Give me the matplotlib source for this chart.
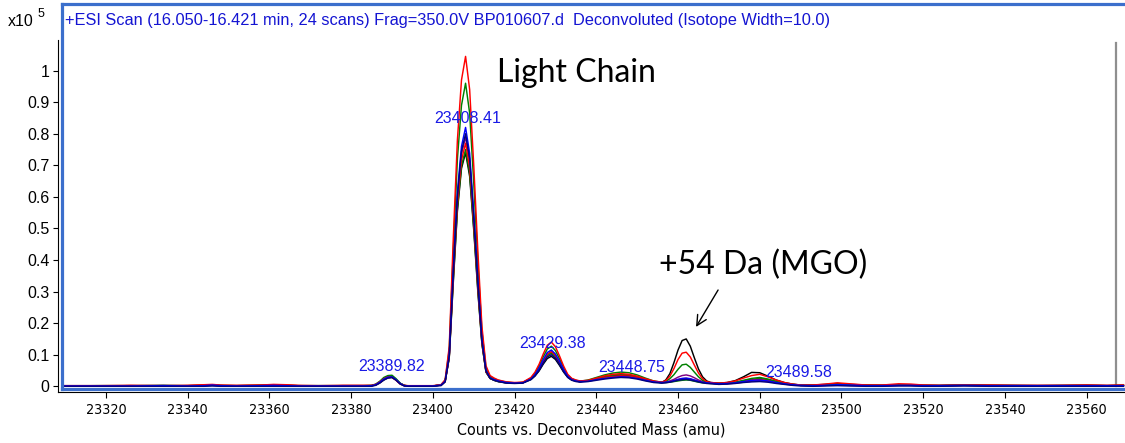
import matplotlib
matplotlib.use("Agg")
import matplotlib.pyplot as plt
from matplotlib import font_manager

# ---------------------------------------------------------------- data
# deconvoluted mass axis (amu), shared by all overlaid spectra
mass = [
    23309, 23318, 23326, 23334, 23340, 23344, 23346, 23348, 23352, 23358, 23361, 23364, 23367, 23372, 23378, 23383,
    23385, 23386, 23387, 23388, 23389, 23390, 23391, 23392, 23393, 23394, 23397, 23400,
    23402, 23403, 23404, 23405, 23406, 23407, 23408, 23409, 23410, 23411, 23412, 23413, 23414, 23415, 23416, 23418, 23420, 23422,
    23424, 23425, 23426, 23427, 23428, 23429, 23430, 23431, 23432, 23433, 23434, 23435, 23436,
    23438, 23440, 23442, 23444, 23446, 23448, 23450, 23452, 23454,
    23456, 23457, 23458, 23459, 23460, 23461, 23462, 23463, 23464, 23465, 23466, 23467, 23468,
    23470, 23472, 23474, 23476, 23478, 23480, 23482, 23484, 23486, 23488, 23490,
    23493, 23496, 23499, 23502, 23506, 23510, 23514, 23517, 23520, 23524, 23530, 23536, 23542, 23548, 23554, 23560, 23565, 23569,
]

# counts (x10^5) for each overlaid spectrum
black_e5 = [
    0.002, 0.002, 0.002, 0.003, 0.002, 0.003, 0.004, 0.002, 0.002, 0.003, 0.004, 0.003, 0.002, 0.002, 0.002, 0.002,
    0.002, 0.004, 0.011, 0.020, 0.027, 0.028, 0.020, 0.009, 0.003, 0.001, 0.001, 0.001,
    0.004, 0.015, 0.090, 0.330, 0.555, 0.690, 0.740, 0.665, 0.495, 0.300, 0.135, 0.045, 0.025, 0.019, 0.015, 0.011, 0.010, 0.012,
    0.022, 0.033, 0.049, 0.070, 0.088, 0.095, 0.085, 0.066, 0.045, 0.029, 0.020, 0.017, 0.015,
    0.018, 0.024, 0.030, 0.034, 0.035, 0.033, 0.028, 0.021, 0.015,
    0.012, 0.020, 0.040, 0.075, 0.115, 0.145, 0.150, 0.127, 0.090, 0.055, 0.030, 0.017, 0.012,
    0.010, 0.012, 0.018, 0.030, 0.044, 0.043, 0.032, 0.020, 0.012, 0.007, 0.004,
    0.004, 0.006, 0.009, 0.006, 0.004, 0.003, 0.005, 0.004, 0.003, 0.003, 0.004, 0.003, 0.003, 0.002, 0.003, 0.003, 0.002, 0.003,
]
red_e5 = [
    0.002, 0.002, 0.003, 0.002, 0.003, 0.005, 0.006, 0.004, 0.003, 0.004, 0.006, 0.005, 0.003, 0.002, 0.003, 0.003,
    0.003, 0.006, 0.014, 0.024, 0.030, 0.029, 0.019, 0.008, 0.003, 0.002, 0.002, 0.002,
    0.005, 0.021, 0.125, 0.470, 0.780, 0.970, 1.045, 0.940, 0.700, 0.430, 0.190, 0.065, 0.034, 0.026, 0.020, 0.014, 0.012, 0.013,
    0.028, 0.045, 0.070, 0.102, 0.130, 0.140, 0.125, 0.096, 0.064, 0.038, 0.025, 0.020, 0.017,
    0.019, 0.026, 0.033, 0.038, 0.040, 0.038, 0.032, 0.024, 0.017,
    0.013, 0.018, 0.032, 0.056, 0.085, 0.105, 0.108, 0.093, 0.067, 0.042, 0.024, 0.015, 0.012,
    0.010, 0.012, 0.017, 0.026, 0.034, 0.038, 0.030, 0.020, 0.012, 0.007, 0.004,
    0.004, 0.007, 0.011, 0.008, 0.004, 0.004, 0.008, 0.007, 0.004, 0.003, 0.004, 0.004, 0.003, 0.003, 0.003, 0.004, 0.003, 0.004,
]
green_e5 = [
    0.001, 0.002, 0.002, 0.002, 0.002, 0.003, 0.004, 0.003, 0.002, 0.003, 0.004, 0.003, 0.002, 0.002, 0.002, 0.002,
    0.003, 0.007, 0.016, 0.028, 0.034, 0.035, 0.024, 0.010, 0.003, 0.001, 0.001, 0.001,
    0.005, 0.019, 0.115, 0.430, 0.720, 0.890, 0.960, 0.865, 0.645, 0.395, 0.175, 0.058, 0.031, 0.024, 0.019, 0.013, 0.011, 0.012,
    0.026, 0.041, 0.064, 0.093, 0.118, 0.127, 0.113, 0.087, 0.058, 0.035, 0.024, 0.019, 0.016,
    0.020, 0.028, 0.036, 0.042, 0.045, 0.043, 0.036, 0.026, 0.017,
    0.013, 0.016, 0.024, 0.037, 0.054, 0.068, 0.070, 0.060, 0.045, 0.030, 0.019, 0.013, 0.011,
    0.009, 0.010, 0.013, 0.019, 0.025, 0.028, 0.023, 0.016, 0.010, 0.006, 0.004,
    0.003, 0.005, 0.007, 0.005, 0.003, 0.003, 0.004, 0.004, 0.003, 0.002, 0.004, 0.003, 0.002, 0.002, 0.002, 0.003, 0.002, 0.003,
]
blue_e5 = [
    0.001, 0.001, 0.001, 0.002, 0.001, 0.002, 0.004, 0.002, 0.001, 0.002, 0.003, 0.002, 0.001, 0.001, 0.001, 0.001,
    0.002, 0.005, 0.013, 0.023, 0.029, 0.030, 0.021, 0.009, 0.002, 0.001, 0.001, 0.001,
    0.004, 0.016, 0.098, 0.370, 0.615, 0.760, 0.820, 0.738, 0.550, 0.336, 0.148, 0.050, 0.027, 0.021, 0.017, 0.012, 0.010, 0.011,
    0.023, 0.037, 0.058, 0.084, 0.107, 0.115, 0.102, 0.079, 0.053, 0.032, 0.021, 0.017, 0.015,
    0.016, 0.021, 0.025, 0.028, 0.030, 0.029, 0.025, 0.019, 0.014,
    0.012, 0.013, 0.015, 0.018, 0.022, 0.025, 0.026, 0.024, 0.020, 0.016, 0.013, 0.011, 0.010,
    0.008, 0.009, 0.011, 0.015, 0.019, 0.020, 0.017, 0.012, 0.008, 0.005, 0.003,
    0.002, 0.003, 0.005, 0.004, 0.002, 0.002, 0.003, 0.003, 0.002, 0.002, 0.003, 0.002, 0.002, 0.002, 0.002, 0.002, 0.002, 0.002,
]
navy_e5 = [
    0.000, 0.000, 0.000, 0.000, 0.000, 0.000, 0.001, 0.000, 0.000, 0.000, 0.000, 0.000, 0.000, 0.000, 0.000, 0.000,
    0.000, 0.003, 0.010, 0.020, 0.026, 0.028, 0.019, 0.007, 0.001, 0.000, 0.000, 0.000,
    0.002, 0.014, 0.094, 0.360, 0.600, 0.745, 0.800, 0.720, 0.535, 0.328, 0.144, 0.048, 0.025, 0.019, 0.015, 0.010, 0.009, 0.010,
    0.021, 0.033, 0.050, 0.073, 0.093, 0.100, 0.089, 0.069, 0.046, 0.028, 0.019, 0.015, 0.013,
    0.015, 0.019, 0.023, 0.026, 0.028, 0.027, 0.023, 0.017, 0.012,
    0.010, 0.011, 0.013, 0.016, 0.019, 0.021, 0.022, 0.020, 0.017, 0.014, 0.011, 0.009, 0.008,
    0.006, 0.007, 0.009, 0.012, 0.014, 0.015, 0.013, 0.009, 0.006, 0.003, 0.001,
    0.000, 0.001, 0.002, 0.001, 0.000, 0.000, 0.001, 0.001, 0.000, 0.000, 0.001, 0.000, 0.000, 0.000, 0.000, 0.000, 0.000, 0.000,
]
red2_e5 = [
    0.001, 0.001, 0.002, 0.001, 0.002, 0.003, 0.004, 0.002, 0.002, 0.003, 0.005, 0.003, 0.002, 0.001, 0.002, 0.002,
    0.002, 0.005, 0.012, 0.022, 0.028, 0.029, 0.020, 0.008, 0.002, 0.001, 0.001, 0.001,
    0.004, 0.015, 0.092, 0.347, 0.578, 0.716, 0.770, 0.693, 0.516, 0.316, 0.139, 0.046, 0.026, 0.020, 0.016, 0.012, 0.011, 0.012,
    0.024, 0.037, 0.056, 0.081, 0.102, 0.110, 0.098, 0.076, 0.051, 0.032, 0.022, 0.018, 0.016,
    0.017, 0.022, 0.027, 0.031, 0.033, 0.032, 0.027, 0.020, 0.015,
    0.012, 0.013, 0.015, 0.018, 0.021, 0.024, 0.025, 0.023, 0.019, 0.016, 0.013, 0.011, 0.010,
    0.008, 0.009, 0.012, 0.016, 0.020, 0.022, 0.018, 0.013, 0.008, 0.005, 0.003,
    0.003, 0.004, 0.006, 0.005, 0.003, 0.003, 0.005, 0.004, 0.003, 0.002, 0.003, 0.003, 0.002, 0.002, 0.002, 0.003, 0.002, 0.003,
]
green2_e5 = [
    0.001, 0.001, 0.001, 0.002, 0.001, 0.002, 0.003, 0.002, 0.001, 0.002, 0.003, 0.002, 0.001, 0.001, 0.001, 0.001,
    0.002, 0.005, 0.013, 0.024, 0.030, 0.031, 0.021, 0.009, 0.002, 0.001, 0.001, 0.001,
    0.004, 0.015, 0.090, 0.338, 0.563, 0.698, 0.750, 0.675, 0.503, 0.308, 0.135, 0.045, 0.025, 0.019, 0.015, 0.011, 0.010, 0.011,
    0.022, 0.035, 0.053, 0.077, 0.097, 0.105, 0.094, 0.072, 0.049, 0.030, 0.020, 0.017, 0.015,
    0.018, 0.024, 0.030, 0.035, 0.038, 0.036, 0.030, 0.022, 0.015,
    0.011, 0.012, 0.013, 0.015, 0.017, 0.019, 0.020, 0.019, 0.016, 0.013, 0.011, 0.010, 0.009,
    0.008, 0.009, 0.012, 0.017, 0.022, 0.025, 0.021, 0.014, 0.009, 0.005, 0.003,
    0.002, 0.004, 0.006, 0.004, 0.002, 0.002, 0.004, 0.003, 0.002, 0.002, 0.003, 0.002, 0.002, 0.002, 0.002, 0.002, 0.002, 0.002,
]
purple_e5 = [
    0.001, 0.001, 0.002, 0.001, 0.002, 0.002, 0.003, 0.002, 0.001, 0.002, 0.003, 0.002, 0.001, 0.001, 0.002, 0.002,
    0.002, 0.005, 0.012, 0.022, 0.028, 0.029, 0.020, 0.008, 0.002, 0.001, 0.001, 0.001,
    0.004, 0.016, 0.095, 0.356, 0.593, 0.735, 0.790, 0.711, 0.530, 0.324, 0.142, 0.047, 0.026, 0.020, 0.016, 0.011, 0.010, 0.011,
    0.023, 0.035, 0.055, 0.079, 0.100, 0.108, 0.096, 0.074, 0.050, 0.030, 0.021, 0.017, 0.015,
    0.017, 0.022, 0.027, 0.030, 0.032, 0.031, 0.026, 0.019, 0.014,
    0.012, 0.014, 0.017, 0.022, 0.029, 0.034, 0.036, 0.033, 0.027, 0.020, 0.015, 0.012, 0.011,
    0.007, 0.008, 0.010, 0.013, 0.016, 0.018, 0.015, 0.011, 0.007, 0.004, 0.003,
    0.002, 0.003, 0.004, 0.003, 0.002, 0.002, 0.003, 0.003, 0.002, 0.002, 0.003, 0.002, 0.002, 0.002, 0.002, 0.002, 0.002, 0.002,
]

# labelled peak masses
peak_labels = [23389.82, 23408.41, 23429.38, 23448.75, 23489.58]

x_ticks = [23320, 23340, 23360, 23380, 23400, 23420, 23440, 23460, 23480,
           23500, 23520, 23540, 23560]
y_ticks = [0, 0.1, 0.2, 0.3, 0.4, 0.5, 0.6, 0.7, 0.8, 0.9, 1.0]
y_tick_labels = ["0", "0.1", "0.2", "0.3", "0.4", "0.5", "0.6", "0.7", "0.8", "0.9", "1"]

title_text = ("+ESI Scan (16.050-16.421 min, 24 scans) Frag=350.0V BP010607.d  "
              "Deconvoluted (Isotope Width=10.0)")
x_label = "Counts vs. Deconvoluted Mass (amu)"

# ---------------------------------------------------------------- layout
W, H = 1125, 443
PX_PER_AMU, X_REF_PX, X_REF = 4.086, 106.0, 23320.0
Y0_PX, PX_PER_UNIT = 386.3, 315.7

def rect(l, t, r, b):
    return [l / W, 1 - b / H, (r - l) / W, (b - t) / H]

def xlim_for(l, r):
    return (X_REF + (l - X_REF_PX) / PX_PER_AMU, X_REF + (r - X_REF_PX) / PX_PER_AMU)

def ylim_for(t, b):
    return ((Y0_PX - b) / PX_PER_UNIT, (Y0_PX - t) / PX_PER_UNIT)

fonts = font_manager.fontManager.ttflist
names = {f.name for f in fonts}
SANS = "Liberation Sans" if "Liberation Sans" in names else "DejaVu Sans"
CALLOUT = "Lato" if "Lato" in names else "Open Sans"

# narrow face for the mass axis
narrow_font = dict(fontfamily=SANS)
tick_size, xlabel_size = 11.0, 11.6
if "Liberation Sans Narrow" in names:
    narrow_font = dict(fontfamily="Liberation Sans Narrow")
    tick_size, xlabel_size = 12.0, 12.8
else:
    condensed = [f for f in fonts
                 if f.name in ("DejaVu Sans", "Open Sans", "Roboto", "Noto Sans")
                 and str(f.stretch) in ("condensed", "semi-condensed", "extra-condensed")
                 and f.weight in (400, "normal", "regular")
                 and f.style == "normal"]
    if condensed:
        narrow_font = dict(fontfamily=condensed[0].name, fontstretch=condensed[0].stretch)
        tick_size, xlabel_size = 10.3, 11.5

fig = plt.figure(figsize=(W / 100, H / 100), dpi=100)
fig.patch.set_facecolor("white")

# black axis frame with ticks
ax_frame = fig.add_axes(rect(58, 40, 1125, 392))
ax_frame.set_facecolor("none")
ax_frame.set_xlim(*xlim_for(58, 1125))
ax_frame.set_ylim(*ylim_for(40, 392))
for side in ("top", "right"):
    ax_frame.spines[side].set_visible(False)
for side in ("left", "bottom"):
    ax_frame.spines[side].set_linewidth(0.8)
    ax_frame.spines[side].set_color("black")
ax_frame.set_xticks(x_ticks)
ax_frame.set_xticklabels([str(t) for t in x_ticks], fontsize=tick_size, **narrow_font)
ax_frame.set_yticks(y_ticks)
ax_frame.set_yticklabels(y_tick_labels, fontfamily=SANS, fontsize=11.5)
ax_frame.tick_params(axis="x", length=4, width=0.8, pad=4, colors="black")
ax_frame.tick_params(axis="y", length=3.5, width=0.8, pad=2.5, colors="black")
ax_frame.set_xlabel(x_label, fontsize=xlabel_size, labelpad=4, **narrow_font)

# plot pane (blue frame) holding the spectra
ax = fig.add_axes(rect(61.5, 3.5, 1127, 389))
ax.set_facecolor("none")
ax.set_xlim(*xlim_for(61.5, 1127))
ax.set_ylim(*ylim_for(3.5, 389))
ax.set_xticks([])
ax.set_yticks([])
frame_blue = "#3b6fcc"
for side in ("left", "top", "bottom"):
    ax.spines[side].set_color(frame_blue)
    ax.spines[side].set_linewidth(2.3)
ax.spines["right"].set_visible(False)

# cursor line at the right edge
cursor_mass = 23567.1
ax.plot([cursor_mass, cursor_mass], [0, 1.088], color="#8f8f8f", lw=1.6, zorder=1)

traces = [
    (black_e5, "#000000"),
    (purple_e5, "#800080"),
    (green2_e5, "#008000"),
    (red2_e5, "#ff0000"),
    (green_e5, "#008000"),
    (red_e5, "#ff0000"),
    (blue_e5, "#0000ff"),
    (navy_e5, "#000080"),
]
for values, color in traces:
    ax.plot(mass, values, color=color, lw=1.05, zorder=2, solid_joinstyle="round")

# peak mass labels
label_y = [0.064, 0.849, 0.135, 0.061, 0.045]
for m, yv in zip(peak_labels, label_y):
    ax.text(m, yv, f"{m:.2f}", color="#1a1ae6", fontsize=11.5, fontfamily=SANS,
            ha="center", va="center", zorder=3)

# scan description
fig.text(65 / W, 1 - 20 / H, title_text, color="#1414d2", fontsize=11.8,
         fontfamily=SANS, ha="left", va="center")
fig.text(8 / W, 1 - 21 / H, "x10", color="black", fontsize=11.5,
         fontfamily=SANS, ha="left", va="center")
fig.text(38 / W, 1 - 14 / H, "5", color="black", fontsize=9,
         fontfamily=SANS, ha="left", va="center")

# callouts
ax.text(23435.2, 0.992, "Light Chain", fontsize=23, fontfamily=CALLOUT,
        ha="center", va="center", color="black")
ax.text(23480.8, 0.384, "+54 Da (MGO)", fontsize=23, fontfamily=CALLOUT,
        ha="center", va="center", color="black")
ax.annotate("", xy=(23464.4, 0.188), xytext=(23469.8, 0.305),
            arrowprops=dict(arrowstyle="->", color="black", lw=1.0,
                            mutation_scale=18, shrinkA=0, shrinkB=0))

fig.savefig("out.png", dpi=100, facecolor="white")
